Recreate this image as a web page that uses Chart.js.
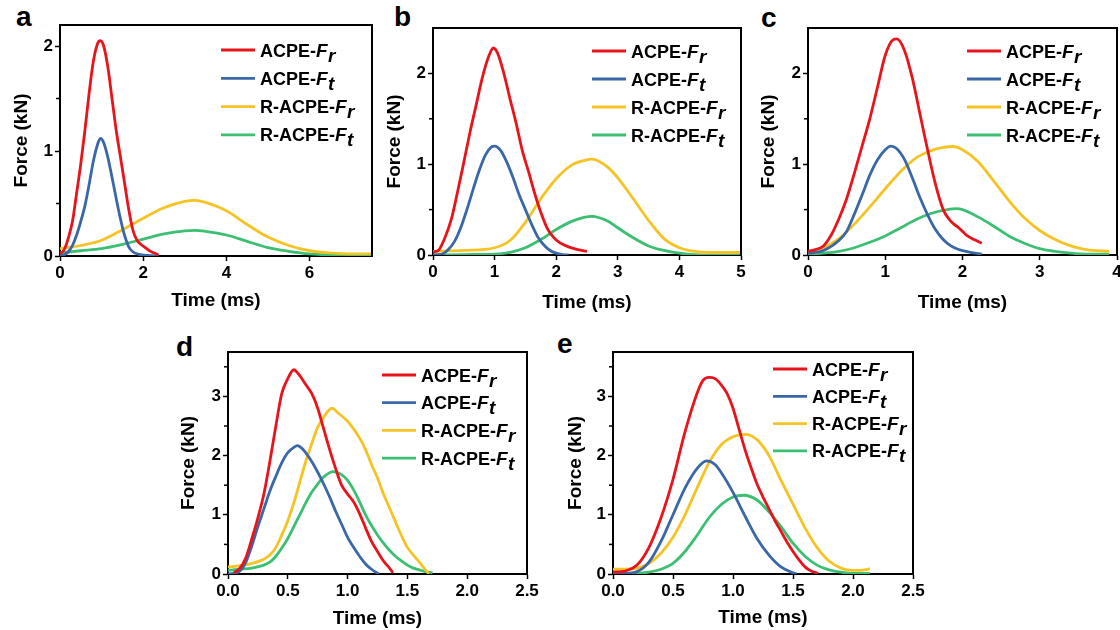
<!DOCTYPE html>
<html>
<head>
<meta charset="utf-8">
<script src="https://cdn.jsdelivr.net/npm/chart.js@4.4.1/dist/chart.umd.min.js"></script>
<style>
  body { margin: 0; width: 1120px; height: 630px; overflow: hidden; background: #fff; font-family: "Liberation Sans", Arial, sans-serif; }
  canvas { position: absolute; }
  .lab { position: absolute; font-weight: bold; font-size: 28px; line-height: 28px; color: #000; }
</style>
</head>
<body>
<div class="lab" style="left:16px;top:3px">a</div>
<div class="lab" style="left:394px;top:3px">b</div>
<div class="lab" style="left:761px;top:4px">c</div>
<div class="lab" style="left:176px;top:333px">d</div>
<div class="lab" style="left:557px;top:330px">e</div>

<canvas id="ca" width="386" height="320" style="left:0px;top:0px"></canvas>
<canvas id="cb" width="382" height="320" style="left:373px;top:0px"></canvas>
<canvas id="cc" width="383" height="320" style="left:748px;top:0px"></canvas>
<canvas id="cd" width="373" height="310" style="left:168px;top:320px"></canvas>
<canvas id="ce" width="374" height="310" style="left:553px;top:320px"></canvas>

<script>
// legend / series
const seriesNames = ["ACPE-", "ACPE-", "R-ACPE-", "R-ACPE-"];
const seriesSubs = ["r", "t", "r", "t"];
const lineColors = ["#e8141c", "#3a67a6", "#f6c324", "#3cbf72"];

// panel a  [time ms, force kN]
const aFr = [[0,0.02],[0.1,0.06],[0.2,0.17],[0.3,0.33],[0.4,0.6],[0.5,0.88],[0.6,1.2],[0.7,1.55],[0.8,1.85],[0.9,2.02],[0.97,2.05],[1.05,2.0],[1.15,1.8],[1.25,1.5],[1.35,1.2],[1.45,0.95],[1.55,0.7],[1.65,0.45],[1.75,0.25],[1.85,0.15],[1.95,0.11],[2.05,0.08],[2.15,0.05],[2.25,0.03],[2.37,0.01]];
const aFt = [[0,0],[0.1,0.01],[0.2,0.04],[0.3,0.1],[0.4,0.2],[0.5,0.33],[0.6,0.48],[0.7,0.68],[0.8,0.9],[0.9,1.06],[0.97,1.12],[1.05,1.08],[1.15,0.94],[1.25,0.75],[1.35,0.55],[1.45,0.36],[1.55,0.2],[1.65,0.09],[1.75,0.04],[1.9,0.015],[2.1,0.005],[2.37,0]];
const aRFr = [[0,0.07],[0.5,0.1],[1,0.15],[1.5,0.25],[2,0.36],[2.5,0.46],[3,0.52],[3.25,0.53],[3.5,0.51],[4,0.43],[4.5,0.3],[5,0.18],[5.5,0.1],[6,0.05],[6.5,0.03],[7,0.02],[7.5,0.02]];
const aRFt = [[0,0.03],[0.5,0.05],[1,0.07],[1.5,0.11],[2,0.16],[2.5,0.21],[3,0.24],[3.25,0.245],[3.5,0.235],[4,0.2],[4.5,0.14],[5,0.08],[5.5,0.045],[6,0.02],[6.5,0.01],[7,0.005],[7.5,0.005]];

// panel b
const bFr = [[0,0.03],[0.1,0.06],[0.2,0.2],[0.3,0.4],[0.4,0.7],[0.5,1.02],[0.6,1.35],[0.7,1.65],[0.8,1.95],[0.9,2.18],[0.98,2.28],[1.05,2.22],[1.15,2.0],[1.25,1.72],[1.35,1.45],[1.45,1.15],[1.55,0.92],[1.65,0.68],[1.75,0.47],[1.85,0.3],[1.95,0.2],[2.05,0.14],[2.2,0.09],[2.35,0.06],[2.5,0.04]];
const bFt = [[0,0],[0.15,0.01],[0.25,0.06],[0.35,0.15],[0.45,0.3],[0.55,0.5],[0.65,0.72],[0.75,0.93],[0.85,1.1],[0.95,1.19],[1.0,1.2],[1.1,1.15],[1.2,1.02],[1.3,0.85],[1.4,0.66],[1.5,0.5],[1.6,0.34],[1.7,0.2],[1.8,0.11],[1.9,0.05],[2.0,0.02],[2.1,0.005],[2.2,0]];
const bRFr = [[0,0.04],[0.5,0.05],[1,0.08],[1.25,0.16],[1.5,0.36],[1.75,0.62],[2,0.84],[2.25,0.99],[2.45,1.04],[2.58,1.055],[2.7,1.03],[2.85,0.96],[3,0.85],[3.25,0.62],[3.5,0.38],[3.75,0.18],[4,0.08],[4.25,0.04],[4.5,0.03],[5,0.03]];
const bRFt = [[0,0],[0.5,0.005],[1,0.01],[1.25,0.03],[1.5,0.08],[1.75,0.17],[2,0.28],[2.25,0.37],[2.45,0.415],[2.58,0.425],[2.7,0.41],[2.85,0.37],[3,0.3],[3.25,0.19],[3.5,0.1],[3.75,0.05],[4,0.02],[4.25,0.005],[5,0]];

// panel c
const cFr = [[0,0.04],[0.1,0.06],[0.2,0.1],[0.3,0.22],[0.4,0.4],[0.5,0.62],[0.6,0.9],[0.7,1.2],[0.8,1.5],[0.9,1.85],[1.0,2.2],[1.1,2.37],[1.15,2.38],[1.25,2.25],[1.35,1.95],[1.45,1.55],[1.55,1.15],[1.65,0.78],[1.75,0.5],[1.85,0.37],[1.95,0.3],[2.05,0.22],[2.15,0.17],[2.25,0.13]];
const cFt = [[0,0.02],[0.2,0.05],[0.4,0.16],[0.5,0.26],[0.6,0.45],[0.7,0.66],[0.8,0.88],[0.9,1.05],[1.0,1.16],[1.07,1.2],[1.15,1.17],[1.25,1.05],[1.35,0.85],[1.45,0.63],[1.55,0.44],[1.65,0.28],[1.75,0.17],[1.85,0.1],[1.95,0.06],[2.1,0.03],[2.25,0.01]];
const cRFr = [[0,0.04],[0.2,0.08],[0.4,0.18],[0.6,0.34],[0.8,0.53],[1.0,0.73],[1.2,0.92],[1.4,1.07],[1.6,1.15],[1.75,1.185],[1.88,1.195],[2.0,1.16],[2.2,1.03],[2.4,0.82],[2.6,0.6],[2.8,0.41],[3.0,0.27],[3.2,0.17],[3.4,0.1],[3.6,0.06],[3.9,0.04]];
const cRFt = [[0,0.01],[0.2,0.02],[0.4,0.04],[0.6,0.08],[0.8,0.14],[1.0,0.21],[1.2,0.3],[1.4,0.39],[1.6,0.46],[1.8,0.5],[1.92,0.51],[2.0,0.5],[2.2,0.42],[2.4,0.32],[2.6,0.21],[2.8,0.13],[3.0,0.07],[3.2,0.04],[3.4,0.02],[3.6,0.01],[3.9,0.01]];

// panel d
const dFr = [[0.05,0.02],[0.1,0.1],[0.15,0.28],[0.2,0.6],[0.25,0.95],[0.3,1.35],[0.35,1.9],[0.4,2.5],[0.45,3.05],[0.5,3.3],[0.55,3.45],[0.6,3.35],[0.65,3.2],[0.7,3.05],[0.75,2.8],[0.8,2.45],[0.85,2.1],[0.9,1.78],[0.95,1.5],[1.0,1.35],[1.05,1.22],[1.1,1.02],[1.15,0.78],[1.2,0.55],[1.25,0.38],[1.3,0.22],[1.35,0.1],[1.38,0.02]];
const dFt = [[0,0],[0.05,0.01],[0.1,0.05],[0.15,0.2],[0.2,0.48],[0.25,0.8],[0.3,1.1],[0.35,1.4],[0.4,1.65],[0.45,1.88],[0.5,2.05],[0.55,2.14],[0.58,2.17],[0.62,2.12],[0.7,1.9],[0.75,1.72],[0.8,1.52],[0.85,1.3],[0.9,1.06],[0.95,0.84],[1.0,0.62],[1.05,0.45],[1.1,0.3],[1.15,0.17],[1.2,0.08],[1.26,0]];
const dRFr = [[0,0.12],[0.1,0.14],[0.2,0.18],[0.3,0.25],[0.35,0.32],[0.4,0.45],[0.45,0.66],[0.5,0.9],[0.55,1.2],[0.6,1.55],[0.65,1.9],[0.7,2.2],[0.75,2.48],[0.8,2.65],[0.87,2.8],[0.92,2.72],[1.0,2.58],[1.05,2.45],[1.1,2.3],[1.15,2.1],[1.2,1.85],[1.25,1.62],[1.3,1.35],[1.35,1.12],[1.4,0.88],[1.45,0.65],[1.5,0.45],[1.55,0.32],[1.6,0.2],[1.65,0.07],[1.68,0.01]];
const dRFt = [[0,0.06],[0.1,0.08],[0.2,0.1],[0.3,0.15],[0.35,0.2],[0.4,0.3],[0.45,0.44],[0.5,0.6],[0.55,0.8],[0.6,1.0],[0.65,1.2],[0.7,1.38],[0.75,1.52],[0.8,1.64],[0.88,1.73],[0.95,1.68],[1.0,1.58],[1.05,1.42],[1.1,1.22],[1.15,1.0],[1.2,0.82],[1.25,0.66],[1.3,0.52],[1.35,0.4],[1.4,0.3],[1.45,0.22],[1.5,0.15],[1.55,0.1],[1.6,0.07],[1.65,0.04],[1.71,0.02]];

// panel e
const eFr = [[0,0.03],[0.1,0.05],[0.2,0.15],[0.3,0.45],[0.4,0.95],[0.5,1.6],[0.6,2.4],[0.7,3.05],[0.75,3.27],[0.8,3.32],[0.85,3.3],[0.9,3.2],[0.95,3.05],[1.0,2.8],[1.05,2.45],[1.1,2.1],[1.15,1.8],[1.2,1.52],[1.25,1.3],[1.3,1.1],[1.35,0.9],[1.4,0.72],[1.45,0.54],[1.5,0.38],[1.55,0.24],[1.6,0.12],[1.65,0.05],[1.71,0.01]];
const eFt = [[0,0.01],[0.1,0.01],[0.2,0.04],[0.3,0.2],[0.4,0.55],[0.5,1.0],[0.6,1.45],[0.7,1.78],[0.78,1.91],[0.85,1.85],[0.9,1.72],[1.0,1.38],[1.1,0.98],[1.2,0.6],[1.3,0.32],[1.4,0.12],[1.5,0.02],[1.53,0]];
const eRFr = [[0,0.08],[0.1,0.08],[0.2,0.1],[0.3,0.18],[0.4,0.35],[0.5,0.62],[0.6,1.0],[0.7,1.45],[0.8,1.88],[0.9,2.18],[1.0,2.32],[1.1,2.36],[1.2,2.27],[1.3,2.0],[1.4,1.58],[1.5,1.18],[1.6,0.78],[1.7,0.45],[1.8,0.22],[1.9,0.1],[2.0,0.06],[2.1,0.07],[2.14,0.09]];
const eRFt = [[0,0.01],[0.2,0.01],[0.3,0.03],[0.4,0.08],[0.5,0.18],[0.6,0.38],[0.7,0.65],[0.8,0.95],[0.9,1.17],[1.0,1.3],[1.09,1.33],[1.2,1.25],[1.3,1.05],[1.4,0.8],[1.5,0.52],[1.6,0.3],[1.7,0.15],[1.8,0.07],[1.9,0.03],[2.0,0.01],[2.14,0.01]];

// ticks
const aXTicks = [0, 2, 4, 6];
const bXTicks = [0, 1, 2, 3, 4, 5];
const cXTicks = [0, 1, 2, 3, 4];
const deXTicks = [0, 0.5, 1, 1.5, 2, 2.5];
const deXLabels = ["0.0", "0.5", "1.0", "1.5", "2.0", "2.5"];
const abcYTicks = [0, 1, 2];
const deYTicks = [0, 1, 2, 3];

const FONT = '"Liberation Sans", Arial, sans-serif';

// frame on top/right, minor y ticks, custom legend with italic F and subscript
const decor = {
  id: "decor",
  afterDraw(chart, args, opts) {
    const {ctx, chartArea: a} = chart;
    const ys = chart.scales.y;
    ctx.save();
    ctx.strokeStyle = "#000";
    ctx.lineWidth = 2;
    ctx.beginPath();
    ctx.moveTo(a.left - 1, a.top);
    ctx.lineTo(a.right, a.top);
    ctx.lineTo(a.right, a.bottom + 1);
    ctx.stroke();

    ctx.lineWidth = 1.5;
    for (let v = 0.5; v < ys.max; v += 1) {
      const py = ys.getPixelForValue(v);
      ctx.beginPath();
      ctx.moveTo(a.left - 4, py);
      ctx.lineTo(a.left, py);
      ctx.stroke();
    }

    const lg = opts.legend;
    for (let i = 0; i < seriesNames.length; i++) {
      const y = lg.y + i * lg.gap;
      ctx.strokeStyle = lineColors[i];
      ctx.lineWidth = 2.8;
      ctx.beginPath();
      ctx.moveTo(lg.x, y);
      ctx.lineTo(lg.x + 34, y);
      ctx.stroke();
      ctx.fillStyle = "#000";
      ctx.textBaseline = "alphabetic";
      let tx = lg.x + 39;
      const base = y + 6.5;
      ctx.font = "bold 18px " + FONT;
      ctx.fillText(seriesNames[i], tx, base);
      tx += ctx.measureText(seriesNames[i]).width;
      ctx.font = "italic bold 19px " + FONT;
      ctx.fillText("F", tx, base);
      tx += ctx.measureText("F").width + 0.5;
      ctx.fillText(seriesSubs[i], tx, base + 5);
    }
    ctx.restore();
  }
};

function makePanel(p) {
  const tickFont = {family: FONT, size: 17, weight: "bold"};
  const titleFont = {family: FONT, size: 19, weight: "bold"};
  return new Chart(document.getElementById(p.id), {
    type: "line",
    data: {
      datasets: p.series.map((s, i) => ({
        data: s.map(([x, y]) => ({x, y})),
        borderColor: lineColors[i],
        borderWidth: 2.8,
        pointRadius: 0,
        fill: false,
        cubicInterpolationMode: "monotone"
      }))
    },
    options: {
      responsive: false,
      animation: false,
      events: [],
      layout: {padding: {left: 0, bottom: 0, top: p.padTop, right: p.padRight}},
      plugins: {legend: {display: false}, tooltip: {enabled: false}, decor: {legend: p.legend}},
      scales: {
        x: {
          type: "linear", min: 0, max: p.xMax,
          afterBuildTicks: s => { s.ticks = p.xTicks.map(v => ({value: v})); },
          afterFit: s => { s.height = p.xh; },
          ticks: {color: "#000", font: tickFont, padding: 2, maxRotation: 0, autoSkip: false,
                  callback: (v, i) => p.xLabels[i]},
          grid: {drawOnChartArea: false, tickLength: 5, tickColor: "#000", tickWidth: 1.5},
          border: {color: "#000", width: 2},
          title: {display: true, text: "Time (ms)", color: "#000", font: titleFont, padding: {top: 0, bottom: p.xtPad}}
        },
        y: {
          type: "linear", min: 0, max: p.yMax,
          afterBuildTicks: s => { s.ticks = p.yTicks.map(v => ({value: v})); },
          afterFit: s => { s.width = p.yw; },
          ticks: {color: "#000", font: tickFont, padding: 2, callback: v => String(v)},
          grid: {drawOnChartArea: false, tickLength: 5, tickColor: "#000", tickWidth: 1.5},
          border: {color: "#000", width: 2},
          title: {display: true, text: "Force (kN)", color: "#000", font: titleFont, padding: {top: p.ytPad, bottom: 0}}
        }
      }
    },
    plugins: [decor]
  });
}

makePanel({id: "ca", series: [aFr, aFt, aRFr, aRFt], xMax: 7.5, yMax: 2.2,
  xTicks: aXTicks, xLabels: aXTicks.map(String), yTicks: abcYTicks,
  padTop: 25, padRight: 14, xh: 64, yw: 60, xtPad: 8, ytPad: 10,
  legend: {x: 221, y: 50, gap: 28.3}});
makePanel({id: "cb", series: [bFr, bFt, bRFr, bRFt], xMax: 5, yMax: 2.5,
  xTicks: bXTicks, xLabels: bXTicks.map(String), yTicks: abcYTicks,
  padTop: 28, padRight: 14, xh: 65, yw: 60, xtPad: 6, ytPad: 10,
  legend: {x: 219, y: 51, gap: 28}});
makePanel({id: "cc", series: [cFr, cFt, cRFr, cRFt], xMax: 4, yMax: 2.5,
  xTicks: cXTicks, xLabels: cXTicks.map(String), yTicks: abcYTicks,
  padTop: 28, padRight: 14, xh: 65, yw: 60, xtPad: 6, ytPad: 9,
  legend: {x: 219, y: 51, gap: 28}});
makePanel({id: "cd", series: [dFr, dFt, dRFr, dRFt], xMax: 2.5, yMax: 3.75,
  xTicks: deXTicks, xLabels: deXLabels, yTicks: deYTicks,
  padTop: 32, padRight: 14, xh: 56, yw: 60, xtPad: 0, ytPad: 9,
  legend: {x: 214, y: 55, gap: 27.7}});
makePanel({id: "ce", series: [eFr, eFt, eRFr, eRFt], xMax: 2.5, yMax: 3.75,
  xTicks: deXTicks, xLabels: deXLabels, yTicks: deYTicks,
  padTop: 32, padRight: 14, xh: 56, yw: 60, xtPad: 1, ytPad: 11,
  legend: {x: 220, y: 49, gap: 27.3}});
</script>
</body>
</html>
